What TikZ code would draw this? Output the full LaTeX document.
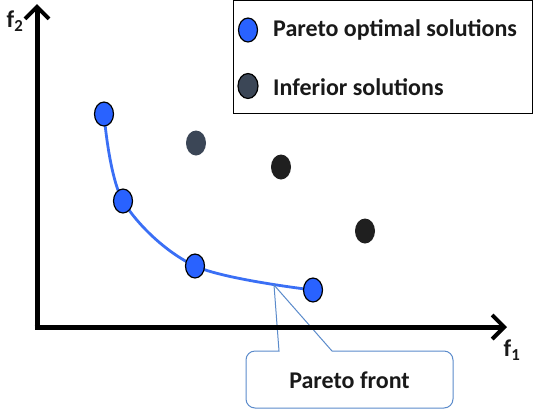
\documentclass[tikz,border=0pt]{standalone}
\usepackage{fontspec}
\setmainfont{Carlito}
\usetikzlibrary{shapes.geometric,arrows.meta}
\definecolor{pblue}{HTML}{2962FF}
\definecolor{cblue}{HTML}{3A6FF5}
\definecolor{callb}{HTML}{5B8BCB}
\definecolor{infgray}{HTML}{3B4656}
\definecolor{infblack}{HTML}{1F1F1F}
\tikzset{
  pdot/.style={ellipse,draw=black,line width=1.2pt,fill=pblue,minimum width=19pt,minimum height=24pt,inner sep=0pt},
  gdot/.style={ellipse,fill=infgray,minimum width=20pt,minimum height=25pt,inner sep=0pt},
  bdot/.style={ellipse,fill=infblack,minimum width=20pt,minimum height=25pt,inner sep=0pt},
  axis/.style={line width=5pt,-{Straight Barb[length=12pt,width=24pt,line width=4pt]}},
  lbl/.style={font=\fontsize{24}{28}\selectfont\bfseries,text=black!90,inner sep=0pt},
}
\begin{document}
\begin{tikzpicture}[x=1pt,y=-1pt]
\useasboundingbox (0,0) rectangle (533,416);
% legend
\node[draw=black,line width=1.5pt,minimum width=299pt,minimum height=113pt,inner sep=0pt,anchor=north west] (leg) at (232.5,-0.5) {};
\node[pdot] (lp) at (248,30) {};
\node[gdot,draw=black,line width=1.2pt] (lg) at (248,86) {};
\node[lbl,anchor=west] (lt1) at (273,30) {Pareto optimal solutions};
\node[lbl,anchor=west] (lt2) at (273,87) {Inferior solutions};
% points
\coordinate (q1) at (104,114);
\coordinate (q2) at (123,201);
\coordinate (q3) at (195,266);
\coordinate (q4) at (313,290);
\draw[cblue,line width=2.8pt] plot[smooth,tension=0.55] coordinates {(q1) (q2) (q3) (q4)};
% callout
\coordinate (tip) at (274,285);
\coordinate (pa) at (279,351);
\coordinate (pb) at (332,351);
\coordinate (c1) at (453,351);
\coordinate (c2) at (453,408);
\coordinate (c3) at (246,408);
\coordinate (c4) at (246,351);
\filldraw[fill=white,draw=callb,line width=1pt,line join=miter]
  (tip) -- (pb) [rounded corners=9pt] -- (c1) -- (c2) -- (c3) -- (c4) [sharp corners] -- (pa) -- cycle;
\node[lbl] (pft) at (349.5,380) {Pareto front};
% axes
\coordinate (o) at (37,327);
\coordinate (ytop) at (37,4);
\coordinate (xend) at (507,327);
\draw[axis] ([yshift=2.5pt]o) -- (ytop);
\draw[axis] ([xshift=-2.5pt]o) -- (xend);
\node[lbl] (f2) at (15,21) {f$_{\mathbf 2}$};
\node[lbl] (f1) at (512,350) {f$_{\mathbf 1}$};
% dots
\node[pdot] (p1) at (q1) {};
\node[pdot] (p2) at (q2) {};
\node[pdot] (p3) at (q3) {};
\node[pdot] (p4) at (q4) {};
\node[gdot] (g1) at (196,143) {};
\node[bdot] (b1) at (281,167) {};
\node[bdot] (b2) at (365,231) {};
\end{tikzpicture}
\end{document}
